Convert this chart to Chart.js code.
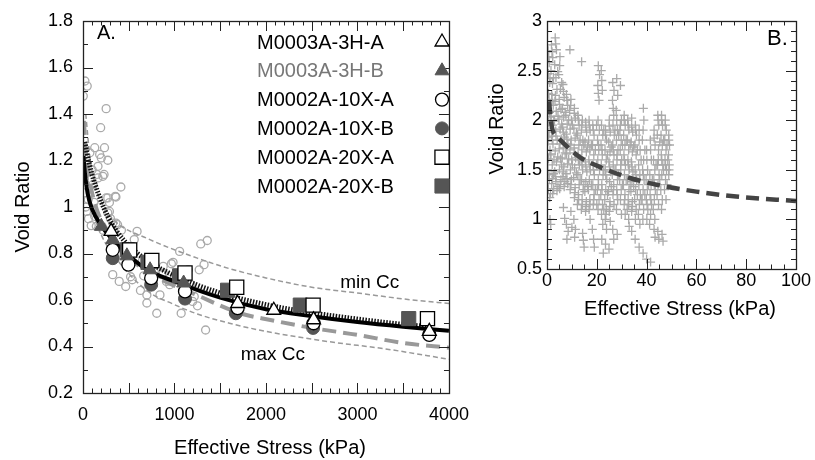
<!DOCTYPE html>
<html lang="en">
<head>
<meta charset="UTF-8">
<title>Void Ratio vs Effective Stress</title>
<script src="https://cdn.jsdelivr.net/npm/chart.js@4"></script>
<style>
  body { margin: 0; background: #fff; }
  #chartA { position: absolute; left: 0; top: 0; }
  #chartB { position: absolute; left: 470px; top: 0; }
</style>
</head>
<body>
<canvas id="chartA" width="480" height="460"></canvas>
<canvas id="chartB" width="345" height="460"></canvas>
<script>
// ---- Panel A: lab consolidation tests ----
const seriesNames = ['M0003A-3H-A', 'M0003A-3H-B', 'M0002A-10X-A', 'M0002A-10X-B', 'M0002A-20X-A', 'M0002A-20X-B'];

const stress3HA = [307, 1690, 2085, 2520, 3785];
const void3HA = [0.895, 0.585, 0.556, 0.515, 0.465];
const stress3HB = [200, 325, 480, 733, 1100];
const void3HB = [0.917, 0.86, 0.79, 0.73, 0.673];
const stress10XA = [325, 496, 745, 1115, 1690, 2520, 3785];
const void10XA = [0.816, 0.752, 0.694, 0.637, 0.565, 0.5, 0.45];
const stress10XB = [325, 745, 1115, 1670, 2515];
const void10XB = [0.78, 0.666, 0.606, 0.543, 0.48];
const stress20XA = [510, 752, 1115, 1680, 2515, 3765];
const void20XA = [0.815, 0.77, 0.716, 0.655, 0.578, 0.52];
const stress20XB = [485, 710, 1056, 1580, 2375, 3560];
const void20XB = [0.816, 0.762, 0.704, 0.642, 0.578, 0.52];

// grey open circles (other samples)
const otherStress = [3, 21, 46, 253, 193, 128, 235, 75, 182, 271, 200, 164, 217, 164, 414, 110, 253, 360, 21, 57,
  289, 39, 591, 360, 1287, 1358, 353, 271, 289, 271, 128, 325, 378, 146, 1056, 984, 1323, 1270, 877, 325,
  396, 467, 520, 538, 663, 628, 698, 698, 841, 877, 912, 948, 1002, 1180, 1198, 1251, 806, 1073, 1340, 1216,
  966, 859, 30, 60, 90, 15, 45, 100, 150, 230, 120, 300, 220, 420, 560, 650, 780, 1150];
const otherVoid = [1.477, 1.542, 1.52, 1.423, 1.341, 1.255, 1.255, 1.233, 1.226, 1.201, 1.211, 1.175, 1.132, 1.125, 1.086, 1.097, 1.039, 1.043, 1.061, 1.032,
  0.981, 0.981, 0.895, 0.931, 0.841, 0.856, 1.046, 1.039, 1.019, 0.975, 0.96, 0.931, 0.924, 0.917, 0.809, 0.762, 0.752, 0.73, 0.745, 0.709,
  0.68, 0.658, 0.7, 0.687, 0.704, 0.641, 0.622, 0.587, 0.622, 0.716, 0.68, 0.666, 0.694, 0.666, 0.594, 0.575, 0.543, 0.543, 0.471, 0.615,
  0.756, 0.709, 1.0, 0.95, 0.92, 1.12, 1.17, 1.16, 1.14, 1.14, 1.02, 0.95, 0.9, 0.9, 0.86, 0.77, 0.72, 0.73];

// fitted curves
const fitStress = [5, 20, 50, 100, 200, 300, 450, 700, 1000, 1500, 2000, 2500, 3000, 3500, 4000];
const fitVoid = [1.22, 1.15, 1.06, 0.99, 0.92, 0.87, 0.81, 0.73, 0.68, 0.61, 0.56, 0.53, 0.505, 0.485, 0.468];
const dotStress = [20, 60, 130, 270, 450, 700, 1000, 1500, 2000, 2500, 3000, 3500, 3800];
const dotVoid = [1.28, 1.2, 1.1, 0.96, 0.855, 0.77, 0.705, 0.63, 0.58, 0.545, 0.518, 0.495, 0.485];
const dashStress = [10, 30, 80, 150, 250, 400, 600, 900, 1250, 1700, 2100, 2500, 3000, 3500, 4000];
const dashVoid = [1.37, 1.25, 1.1, 0.99, 0.91, 0.82, 0.75, 0.68, 0.62, 0.545, 0.51, 0.48, 0.45, 0.415, 0.395];
const minCcStress = [30, 80, 150, 250, 360, 700, 1250, 1600, 2000, 2500, 3000, 3600, 4000];
const minCcVoid = [1.4, 1.2, 1.07, 0.99, 0.935, 0.865, 0.78, 0.735, 0.695, 0.655, 0.63, 0.6, 0.585];
const maxCcStress = [20, 60, 120, 200, 360, 700, 1000, 1250, 1600, 2000, 2700, 3300, 4000];
const maxCcVoid = [1.25, 1.1, 0.97, 0.88, 0.78, 0.64, 0.58, 0.54, 0.5, 0.465, 0.42, 0.39, 0.345];

// ---- Panel B: in situ estimates ----
const fitStressB = [0.8, 1.9, 4, 6.6, 13, 22, 33, 44, 60, 76, 100];
const fitVoidB = [2.19, 1.94, 1.84, 1.77, 1.63, 1.52, 1.42, 1.35, 1.28, 1.23, 1.185];

const cloud0to10 = [
  [0.4,2.70],[0.9,2.58],[0.5,2.47],[1.1,2.38],[0.6,2.27],[0.3,2.16],[1.0,2.08],[0.5,1.98],[0.8,1.88],[0.4,1.79],[1.2,1.70],[0.6,1.61],[0.3,1.50],[0.9,1.41],[0.5,1.31],[1.1,1.22],
  [1.8,2.76],[2.3,2.63],[1.6,2.50],[2.2,2.37],[1.9,2.26],[2.5,2.15],[1.7,2.04],[2.2,1.95],[1.8,1.84],[2.4,1.76],[1.6,1.66],[2.1,1.55],[2.6,1.46],[1.9,1.36],[2.3,1.26],[1.2,1.00],[1.5,0.95],
  [3.3,2.83],[3.8,2.71],[3.1,2.56],[3.6,2.43],[4.0,2.31],[3.2,2.19],[3.7,2.09],[3.0,1.99],[3.5,1.89],[4.1,1.80],[3.3,1.69],[3.8,1.58],[3.1,1.48],[3.6,1.38],[4.0,1.29],
  [5.2,2.64],[4.7,2.46],[5.4,2.31],[4.9,2.21],[5.6,2.11],[4.8,2.01],[5.3,1.91],[5.7,1.81],[4.9,1.71],[5.4,1.61],[5.0,1.50],[5.6,1.40],[5.1,1.31],
  [6.4,2.36],[6.9,2.23],[6.2,2.12],[6.7,2.03],[6.3,1.93],[7.0,1.83],[6.5,1.72],[6.1,1.62],[6.8,1.53],[6.4,1.43],[6.9,1.33],[6.6,1.12],[7.1,1.01],
  [7.8,2.26],[8.3,2.15],[7.6,2.05],[8.1,1.96],[7.7,1.86],[8.4,1.76],[7.9,1.66],[8.2,1.56],[7.6,1.46],[8.3,1.36],[7.8,0.95],[8.5,0.88],[8.0,0.80],
  [9.2,2.71],[9.6,2.21],[9.1,2.10],[9.8,2.00],[9.3,1.91],[9.7,1.80],[9.2,1.70],[9.9,1.60],[9.4,1.50],[9.8,1.40],[9.3,1.30],[9.6,1.08],[10.0,0.92]
];
const cloud10to20 = [
  [11.0,2.12],[11.4,2.02],[10.8,1.92],[11.3,1.82],[10.9,1.72],[11.5,1.62],[11.1,1.52],[10.7,1.42],[11.3,1.32],[11.0,1.22],[10.8,1.00],[11.4,0.90],[11.1,0.82],
  [12.4,2.05],[12.9,1.95],[12.3,1.85],[12.8,1.75],[12.5,1.65],[13.0,1.55],[12.4,1.45],[12.9,1.35],[12.6,1.25],[12.2,1.15],
  [13.9,2.59],[14.2,2.00],[13.8,1.90],[14.4,1.80],[14.0,1.70],[13.7,1.60],[14.3,1.50],[13.9,1.40],[14.5,1.30],[14.1,1.20],[13.8,1.10],[14.3,0.86],[14.6,0.79],[14.9,0.72],
  [15.5,1.98],[15.9,1.88],[15.3,1.78],[15.8,1.68],[15.4,1.58],[16.0,1.48],[15.6,1.38],[15.2,1.28],[15.8,1.18],[15.5,1.08],
  [16.9,2.00],[17.3,1.90],[16.7,1.80],[17.2,1.70],[16.8,1.60],[17.4,1.50],[17.0,1.40],[16.6,1.30],[17.2,1.20],[16.9,1.10],[17.3,1.00],
  [18.4,1.95],[18.9,1.85],[18.3,1.75],[18.8,1.65],[18.5,1.55],[19.0,1.45],[18.4,1.35],[18.9,1.25],[18.6,1.15],[18.2,0.90],[18.7,0.80],[19.0,0.72]
];
const cloud20to30 = [
  [20.6,2.55],[21.1,2.46],[20.4,2.35],[20.9,2.20],[20.5,2.00],[21.0,1.90],[20.3,1.80],[20.8,1.70],[20.4,1.60],[21.1,1.50],[20.6,1.40],[20.2,1.30],[20.9,1.20],[20.5,1.10],
  [21.8,2.50],[22.2,2.30],[21.9,1.95],[22.4,1.85],[21.7,1.75],[22.2,1.65],[21.8,1.55],[22.5,1.45],[22.0,1.35],[21.6,1.25],[22.3,1.15],[21.9,1.05],[22.4,0.95],[22.0,0.80],[22.6,0.66],
  [23.5,1.90],[23.9,1.80],[23.3,1.70],[23.8,1.60],[23.4,1.50],[24.0,1.40],[23.6,1.30],[23.2,1.20],[23.8,1.10],[23.4,1.00],[23.9,0.90],[23.5,0.75],
  [25.0,2.00],[25.4,1.88],[24.8,1.78],[25.3,1.68],[24.9,1.58],[25.5,1.48],[25.1,1.38],[24.7,1.28],[25.3,1.18],[25.0,1.08],[25.4,0.98],[24.9,0.70],
  [26.4,2.38],[26.9,2.30],[26.3,2.20],[26.8,2.05],[26.5,1.95],[27.0,1.85],[26.4,1.75],[26.9,1.65],[26.6,1.55],[26.2,1.45],[26.8,1.35],[26.5,1.25],[26.9,1.15],[26.4,0.90],[26.8,0.80],
  [28.0,2.42],[28.4,2.25],[27.8,2.10],[28.3,1.90],[27.9,1.80],[28.5,1.70],[28.1,1.60],[27.7,1.50],[28.3,1.40],[28.0,1.30],[28.4,1.20],[27.9,1.10],[28.2,0.85],
  [29.5,2.35],[29.9,2.00],[29.3,1.90],[29.8,1.80],[29.4,1.70],[30.0,1.60],[29.6,1.50],[29.2,1.40],[29.8,1.30],[29.5,1.20],[29.9,1.05]
];
const cloud30to40 = [
  [31.0,2.05],[31.4,1.95],[30.8,1.85],[31.3,1.75],[30.9,1.65],[31.5,1.55],[31.1,1.45],[30.7,1.35],[31.3,1.25],[31.0,1.15],[31.4,1.05],
  [32.4,2.00],[32.9,1.90],[32.3,1.80],[32.8,1.70],[32.5,1.60],[33.0,1.50],[32.4,1.40],[32.9,1.30],[32.6,1.20],[32.2,1.10],[32.8,1.00],[33.0,0.93],
  [34.0,2.02],[34.4,1.88],[33.8,1.78],[34.3,1.68],[33.9,1.58],[34.5,1.48],[34.1,1.38],[33.7,1.28],[34.3,1.18],[34.0,1.08],[34.0,0.88],
  [35.5,1.95],[35.9,1.85],[35.3,1.75],[35.8,1.65],[35.4,1.50],[36.0,1.40],[35.6,1.30],[35.2,1.20],[35.8,1.10],[35.5,1.00],[35.4,0.80],
  [37.0,1.90],[37.4,1.70],[36.8,1.55],[37.3,1.45],[36.9,1.35],[37.5,1.25],[37.1,1.15],[36.7,1.05],[37.3,0.95],[37.0,0.72],
  [38.7,2.12],[38.9,2.00],[38.3,1.80],[38.8,1.60],[38.4,1.50],[39.0,1.40],[38.6,1.30],[38.2,1.20],[38.8,1.10],[38.5,1.00],[38.6,0.66],
  [40.0,1.70],[40.4,1.50],[39.8,1.40],[40.3,1.30],[39.9,1.20],[40.5,1.10],[40.1,1.00],[40.0,0.60]
];
const cloud40to50 = [
  [41.5,1.80],[41.9,1.60],[41.3,1.45],[41.8,1.35],[41.4,1.25],[42.0,1.15],[41.6,1.05],[41.2,0.95],[41.6,0.57],
  [43.0,1.90],[43.4,1.75],[42.8,1.60],[43.3,1.50],[42.9,1.40],[43.5,1.30],[43.1,1.20],[42.7,1.10],[43.3,1.00],[43.0,0.90],[43.4,0.82],
  [44.5,2.05],[44.9,1.95],[44.3,1.85],[44.8,1.70],[44.4,1.55],[45.0,1.45],[44.6,1.35],[44.2,1.25],[44.8,1.15],[44.5,0.88],[44.9,0.80],
  [46.0,2.05],[46.4,1.95],[45.8,1.85],[46.3,1.75],[45.9,1.65],[46.5,1.55],[46.1,1.45],[45.7,1.30],[46.3,1.20],[46.0,1.10],[46.2,0.85],[46.6,0.78],
  [47.5,2.00],[47.9,1.90],[47.3,1.80],[47.8,1.70],[47.4,1.60],[48.0,1.50],[47.6,1.40],[47.2,1.30],[47.8,1.20],
  [48.9,1.85],[49.2,1.75],[48.8,1.65],[49.1,1.55],[48.9,1.45]
];
// extra points filling the dense core of the cloud
const cloudCore = [
  [0.7,2.64],[1.2,2.42],[0.8,2.21],[1.3,2.03],[0.7,1.83],[1.3,1.65],[0.8,1.45],[1.4,1.26],
  [2.0,2.69],[2.6,2.43],[2.0,2.20],[2.7,2.00],[2.1,1.80],[2.8,1.60],[2.2,1.41],[2.7,1.31],
  [3.5,2.77],[4.3,2.49],[3.4,2.25],[4.4,2.04],[3.6,1.84],[4.3,1.63],[3.5,1.43],[4.4,1.33],
  [5.1,2.55],[5.9,2.38],[5.0,2.16],[5.9,1.96],[5.2,1.76],[5.9,1.55],[5.3,1.35],
  [6.6,2.29],[7.3,2.08],[6.6,1.88],[7.3,1.67],[6.5,1.48],[7.2,1.38],
  [8.0,2.20],[8.7,2.00],[8.0,1.81],[8.7,1.61],[8.0,1.41],
  [9.5,2.15],[10.2,1.95],[9.5,1.75],[10.2,1.55],[9.6,1.35],
  [11.0,2.07],[11.8,1.87],[11.1,1.67],[11.8,1.47],[11.2,1.27],
  [12.6,2.00],[13.3,1.80],[12.6,1.60],[13.3,1.40],[12.7,1.20],
  [14.0,1.95],[14.8,1.75],[14.1,1.55],[14.8,1.35],[14.2,1.15],
  [15.6,1.93],[16.3,1.73],[15.6,1.53],[16.3,1.33],[15.7,1.13],
  [17.0,1.95],[17.8,1.75],[17.1,1.55],[17.8,1.35],[17.2,1.15],
  [18.6,1.90],[19.4,1.70],[18.7,1.50],[19.4,1.30],[18.8,1.20],
  [20.6,2.27],[19.9,1.95],[20.7,1.75],[19.9,1.55],[20.7,1.35],[20.0,1.15],
  [22.0,2.40],[22.8,1.90],[22.1,1.70],[22.8,1.50],[22.1,1.30],[22.8,1.10],
  [23.5,1.85],[24.3,1.65],[23.6,1.45],[24.3,1.25],[23.7,1.05],
  [25.0,1.94],[25.8,1.73],[25.1,1.53],[25.8,1.33],[25.2,1.13],
  [26.6,2.12],[27.3,1.90],[26.6,1.70],[27.3,1.50],[26.7,1.30],
  [28.0,2.00],[28.8,1.85],[28.1,1.65],[28.8,1.45],[28.2,1.25],
  [29.5,1.95],[30.3,1.75],[29.6,1.55],[30.3,1.35],
  [31.0,2.00],[31.8,1.80],[31.1,1.60],[31.8,1.40],[31.2,1.20],
  [32.6,1.95],[33.4,1.75],[32.7,1.55],[33.4,1.35],[32.8,1.15],
  [34.0,1.93],[34.8,1.73],[34.1,1.53],[34.8,1.33],[34.2,1.13],
  [35.6,1.90],[36.3,1.70],[35.7,1.45],[36.3,1.25],
  [37.0,1.80],[37.8,1.60],[37.1,1.40],[37.8,1.20],
  [38.6,1.90],[39.3,1.70],[38.7,1.45],[39.3,1.25],
  [40.1,1.60],[40.8,1.35],[40.2,1.15],
  [41.6,1.70],[42.3,1.40],[41.7,1.20],
  [43.0,1.82],[43.8,1.55],[43.1,1.35],
  [44.6,2.00],[45.3,1.78],[44.7,1.60],[45.3,1.40],
  [46.0,2.00],[46.8,1.80],[46.1,1.60],[46.8,1.50],
  [47.5,1.95],[48.2,1.75],[47.6,1.55],[48.2,1.35],
  [48.9,1.80],[48.5,1.60],[49.0,1.50]
];

Chart.defaults.font.family = '"Liberation Sans", Arial, Helvetica, sans-serif';
Chart.defaults.color = '#000';

const pts = (xs, ys) => xs.map((x, i) => ({ x: x, y: ys[i] }));
const pairs = arr => arr.map(p => ({ x: p[0], y: p[1] }));
const oneDecimal = v => String(Math.round(v * 10) / 10);

// inward ticks on all four sides plus the frame
const frameTicks = {
  id: 'frameTicks',
  afterDatasetsDraw(chart, args, o) {
    const { ctx, chartArea: a, scales: { x, y } } = chart;
    const isMajor = (v, step) => Math.abs(v / step - Math.round(v / step)) < 1e-6;
    ctx.save();
    ctx.strokeStyle = '#222';
    ctx.lineWidth = 1;
    ctx.beginPath();
    const nx = Math.round((x.max - x.min) / o.xMinor);
    for (let i = 0; i <= nx; i++) {
      const v = x.min + i * o.xMinor;
      const px = Math.round(x.getPixelForValue(v)) + 0.5;
      const len = isMajor(v, o.xMajor) ? 10 : 4.5;
      ctx.moveTo(px, a.bottom); ctx.lineTo(px, a.bottom - len);
      ctx.moveTo(px, a.top); ctx.lineTo(px, a.top + len);
    }
    const ny = Math.round((y.max - y.min) / o.yMinor);
    for (let i = 0; i <= ny; i++) {
      const v = y.min + i * o.yMinor;
      const py = Math.round(y.getPixelForValue(v)) + 0.5;
      const len = isMajor(v, o.yMajor) ? 10 : 5;
      ctx.moveTo(a.left, py); ctx.lineTo(a.left + len, py);
      ctx.moveTo(a.right, py); ctx.lineTo(a.right - len, py);
    }
    ctx.stroke();
    ctx.lineWidth = 1.3;
    ctx.strokeRect(Math.round(a.left) + 0.5, Math.round(a.top) + 0.5, Math.round(a.right - a.left), Math.round(a.bottom - a.top));
    ctx.restore();
  }
};

// text labels and hand-placed legend
const labels = {
  id: 'labels',
  afterDraw(chart, args, o) {
    const { ctx, chartArea: a, scales: { x, y } } = chart;
    ctx.save();
    (o.texts || []).forEach(t => {
      ctx.save();
      ctx.font = (t.size || 20) + 'px "Liberation Sans", Arial, sans-serif';
      ctx.fillStyle = t.color || '#000';
      ctx.textAlign = t.align || 'center';
      ctx.textBaseline = t.baseline || 'alphabetic';
      let px = t.px, py = t.py;
      if (t.dx !== undefined) { px = x.getPixelForValue(t.dx); py = y.getPixelForValue(t.dy); }
      ctx.translate(px, py);
      if (t.rotate) ctx.rotate(t.rotate);
      ctx.fillText(t.text, 0, 0);
      ctx.restore();
    });
    (o.legend || []).forEach((item, i) => {
      const rowY = a.top + 21 + i * 28.8;
      ctx.font = '20px "Liberation Sans", Arial, sans-serif';
      ctx.fillStyle = item.textColor;
      ctx.textAlign = 'left';
      ctx.textBaseline = 'middle';
      ctx.fillText(item.label, a.left + 174, rowY + 1);
      ctx.fillStyle = item.ds.backgroundColor;
      ctx.strokeStyle = item.ds.borderColor;
      ctx.lineWidth = item.ds.borderWidth;
      Chart.helpers.drawPoint(ctx, {
        pointStyle: item.ds.pointStyle, radius: item.ds.pointRadius, rotation: 0, borderWidth: item.ds.borderWidth
      }, a.left + 359, rowY);
    });
    ctx.restore();
  }
};

const openStyle = { backgroundColor: '#fff', borderColor: '#000', borderWidth: 1.3 };
const fillStyle = { backgroundColor: '#555', borderColor: '#555', borderWidth: 1 };

const markerSets = [
  Object.assign({ label: seriesNames[0], data: pts(stress3HA, void3HA), pointStyle: 'triangle', pointRadius: 8 }, openStyle),
  Object.assign({ label: seriesNames[1], data: pts(stress3HB, void3HB), pointStyle: 'triangle', pointRadius: 8 }, fillStyle),
  Object.assign({ label: seriesNames[2], data: pts(stress10XA, void10XA), pointStyle: 'circle', pointRadius: 6.5 }, openStyle),
  Object.assign({ label: seriesNames[3], data: pts(stress10XB, void10XB), pointStyle: 'circle', pointRadius: 6.5 }, fillStyle),
  Object.assign({ label: seriesNames[4], data: pts(stress20XA, void20XA), pointStyle: 'rect', pointRadius: 10 }, openStyle),
  Object.assign({ label: seriesNames[5], data: pts(stress20XB, void20XB), pointStyle: 'rect', pointRadius: 10 }, fillStyle)
];
markerSets.forEach(d => { d.order = 1; d.showLine = false; });

const curve = (xs, ys, color, width, dash, order) => ({
  data: pts(xs, ys), showLine: true, pointRadius: 0, borderColor: color, borderWidth: width,
  borderDash: dash, cubicInterpolationMode: 'monotone', fill: false, order: order
});

new Chart(document.getElementById('chartA'), {
  type: 'scatter',
  data: {
    datasets: markerSets.concat([
      curve(fitStress, fitVoid, '#000', 4, [], 3),
      curve(dotStress, dotVoid, '#111', 5, [1.5, 1.5], 4),
      curve(dashStress, dashVoid, '#999', 4, [14, 7], 5),
      curve(minCcStress, minCcVoid, '#999', 1.5, [5, 3], 6),
      curve(maxCcStress, maxCcVoid, '#999', 1.5, [5, 3], 6),
      { data: pts(otherStress, otherVoid), pointStyle: 'circle', pointRadius: 4, borderWidth: 1.3,
        borderColor: '#aaa', backgroundColor: 'rgba(0,0,0,0)', order: 10 }
    ])
  },
  options: {
    responsive: false,
    animation: false,
    layout: { padding: { top: 21, right: 23, left: 0, bottom: 0 } },
    plugins: {
      legend: { display: false },
      tooltip: { enabled: false },
      frameTicks: { xMajor: 500, xMinor: 100, yMajor: 0.2, yMinor: 0.1 },
      labels: {
        texts: [
          { text: 'A.', px: 97, py: 39, align: 'left' },
          { text: 'Void Ratio', px: 23, py: 207, rotate: -Math.PI / 2, baseline: 'middle' },
          { text: 'Effective Stress (kPa)', px: 270, py: 454 },
          { text: 'min Cc', dx: 3134, dy: 0.674, baseline: 'middle', size: 19 },
          { text: 'max Cc', dx: 2075, dy: 0.364, baseline: 'middle', size: 19 }
        ],
        legend: markerSets.map((ds, i) => ({ label: seriesNames[i], ds: ds, textColor: i === 1 ? '#777' : '#000' }))
      }
    },
    scales: {
      x: {
        type: 'linear', min: 0, max: 4000,
        afterFit: s => { s.height = 67; },
        ticks: { stepSize: 1000, padding: 11, maxRotation: 0, font: { size: 18 }, callback: v => String(v) },
        grid: { display: false, drawTicks: false },
        border: { display: false }
      },
      y: {
        type: 'linear', min: 0.2, max: 1.8,
        afterFit: s => { s.width = 83; },
        ticks: { stepSize: 0.2, padding: 10, font: { size: 18 }, callback: oneDecimal },
        grid: { display: false, drawTicks: false },
        border: { display: false }
      }
    }
  },
  plugins: [frameTicks, labels]
});

const cloud = [].concat(cloud0to10, cloud10to20, cloud20to30, cloud30to40, cloud40to50, cloudCore);

new Chart(document.getElementById('chartB'), {
  type: 'scatter',
  data: {
    datasets: [
      curve(fitStressB, fitVoidB, '#444', 4.5, [13, 7], 1),
      { data: pairs(cloud), pointStyle: 'cross', pointRadius: 4.5, borderWidth: 1.3,
        borderColor: '#aaa', backgroundColor: '#aaa', order: 5 }
    ]
  },
  options: {
    responsive: false,
    animation: false,
    layout: { padding: { top: 21, right: 19, left: 0, bottom: 0 } },
    plugins: {
      legend: { display: false },
      tooltip: { enabled: false },
      frameTicks: { xMajor: 20, xMinor: 5, yMajor: 0.5, yMinor: 0.1 },
      labels: {
        texts: [
          { text: 'B.', px: 297, py: 45, align: 'left', size: 22 },
          { text: 'Void Ratio', px: 27, py: 129, rotate: -Math.PI / 2, baseline: 'middle' },
          { text: 'Effective Stress (kPa)', px: 210, py: 315 }
        ]
      }
    },
    scales: {
      x: {
        type: 'linear', min: 0, max: 100,
        afterFit: s => { s.height = 191; },
        ticks: { stepSize: 20, padding: 1, maxRotation: 0, font: { size: 18 } },
        grid: { display: false, drawTicks: false },
        border: { display: false }
      },
      y: {
        type: 'linear', min: 0.5, max: 3,
        afterFit: s => { s.width = 77; },
        ticks: { stepSize: 0.5, padding: 5, font: { size: 18 }, callback: oneDecimal },
        grid: { display: false, drawTicks: false },
        border: { display: false }
      }
    }
  },
  plugins: [frameTicks, labels]
});
</script>
</body>
</html>
